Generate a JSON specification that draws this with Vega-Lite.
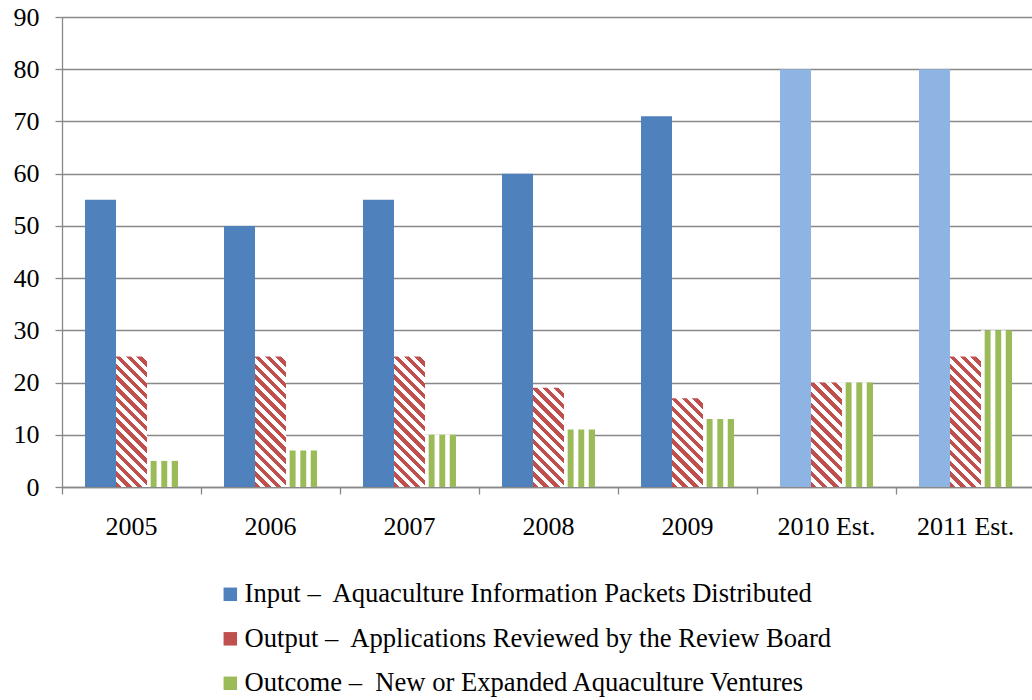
{
  "$schema": "https://vega.github.io/schema/vega-lite/v6.json",
  "width": 973,
  "height": 470,
  "autosize": "none",
  "padding": {"left": 62, "top": 17, "right": 0, "bottom": 213},
  "background": "white",
  "config": {"view": {"stroke": null}, "font": "Liberation Serif"},
  "data": {
    "values": [
      {"year": "2005", "series": "Input", "value": 55},
      {"year": "2006", "series": "Input", "value": 50},
      {"year": "2007", "series": "Input", "value": 55},
      {"year": "2008", "series": "Input", "value": 60},
      {"year": "2009", "series": "Input", "value": 71},
      {"year": "2010 Est.", "series": "Input", "value": 80},
      {"year": "2011 Est.", "series": "Input", "value": 80},
      {"year": "2005", "series": "Output", "value": 25},
      {"year": "2006", "series": "Output", "value": 25},
      {"year": "2007", "series": "Output", "value": 25},
      {"year": "2008", "series": "Output", "value": 19},
      {"year": "2009", "series": "Output", "value": 17},
      {"year": "2010 Est.", "series": "Output", "value": 20},
      {"year": "2011 Est.", "series": "Output", "value": 25},
      {"year": "2005", "series": "Outcome", "value": 5},
      {"year": "2006", "series": "Outcome", "value": 7},
      {"year": "2007", "series": "Outcome", "value": 10},
      {"year": "2008", "series": "Outcome", "value": 11},
      {"year": "2009", "series": "Outcome", "value": 13},
      {"year": "2010 Est.", "series": "Outcome", "value": 20},
      {"year": "2011 Est.", "series": "Outcome", "value": 30}
    ]
  },
  "encoding": {
    "x": {
      "field": "year", "type": "nominal", "sort": null,
      "scale": {"paddingInner": 0, "paddingOuter": 0},
      "axis": {
        "title": null, "labelAngle": 0, "bandPosition": 0,
        "labelFont": "Liberation Serif", "labelFontSize": 26, "labelColor": "#000000",
        "labelPadding": 19, "tickSize": 7, "tickColor": "#888888", "domainColor": "#888888",
        "tickWidth": 1.3, "domainWidth": 1.3, "grid": false
      }
    },
    "xOffset": {
      "field": "series", "type": "nominal",
      "scale": {"domain": ["Input", "Output", "Outcome"], "paddingInner": 0, "paddingOuter": 0.742}
    },
    "y": {
      "field": "value", "type": "quantitative",
      "scale": {"domain": [0, 90], "nice": false},
      "axis": {
        "title": null, "values": [0, 10, 20, 30, 40, 50, 60, 70, 80, 90],
        "labelFont": "Liberation Serif", "labelFontSize": 26, "labelColor": "#000000",
        "labelPadding": 16, "tickSize": 7, "tickColor": "#888888", "domainColor": "#888888",
        "tickWidth": 1.3, "domainWidth": 1.3, "grid": true, "gridColor": "#888888", "gridWidth": 1.3
      }
    }
  },
  "layer": [
    {
      "transform": [{"filter": "datum.series === 'Input'"}],
      "mark": {"type": "bar"},
      "encoding": {
        "fill": {
          "field": "series", "type": "nominal",
          "scale": {"domain": ["Input", "Output", "Outcome"], "range": ["#4F81BD", "#C0504D", "#9BBB59"]},
          "legend": {
            "orient": "none", "legendX": 155, "legendY": 564, "direction": "vertical",
            "title": null, "symbolType": "square", "symbolSize": 182, "symbolStrokeWidth": 0,
            "labelFont": "Liberation Serif", "labelFontSize": 26.6, "labelColor": "#000000",
            "labelLimit": 900, "rowPadding": 17.5, "labelOffset": 1, "padding": 0,
            "labelExpr": "datum.label == 'Input' ? 'Input –\u00a0 Aquaculture Information Packets Distributed' : datum.label == 'Output' ? 'Output –\u00a0 Applications Reviewed by the Review Board' : 'Outcome –\u00a0 New or Expanded Aquaculture Ventures'",
            "encode": {
              "symbols": {
                "update": {
                  "fill": [
                    {"test": "datum.value === 'Output'", "value": {"gradient": "linear", "x1": 0, "y1": 1, "x2": 1, "y2": 0, "stops": [
                      {"offset": 0, "color": "#FFFFFF"},
                      {"offset": 0.2, "color": "#FFFFFF"}, {"offset": 0.2, "color": "#C0504D"},
                      {"offset": 0.4, "color": "#C0504D"}, {"offset": 0.4, "color": "#FFFFFF"},
                      {"offset": 0.6, "color": "#FFFFFF"}, {"offset": 0.6, "color": "#C0504D"},
                      {"offset": 0.8, "color": "#C0504D"}, {"offset": 0.8, "color": "#FFFFFF"},
                      {"offset": 1, "color": "#FFFFFF"}
                    ]}},
                    {"test": "datum.value === 'Outcome'", "value": {"gradient": "linear", "x1": 0, "y1": 0, "x2": 1, "y2": 0, "stops": [
                      {"offset": 0, "color": "#9BBB59"},
                      {"offset": 0.25, "color": "#9BBB59"}, {"offset": 0.3, "color": "#FFFFFF"},
                      {"offset": 0.42, "color": "#FFFFFF"}, {"offset": 0.47, "color": "#9BBB59"},
                      {"offset": 0.7, "color": "#9BBB59"}, {"offset": 0.75, "color": "#FFFFFF"},
                      {"offset": 1, "color": "#FFFFFF"}
                    ]}},
                    {"value": "#4F81BD"}
                  ]
                }
              }
            }
          },
          "condition": {"test": "indexof(datum.year, 'Est') >= 0", "value": "#8EB4E3"}
        }
      }
    },
    {
      "transform": [{"filter": "datum.series === 'Output'"}],
      "mark": {"type": "bar"},
      "encoding": {
        "fill": {
          "field": "series", "type": "nominal",
          "condition": [
            {"test": "datum.value == 25", "value": {"gradient": "linear", "x1": 0, "y1": 1, "x2": 0.27814, "y2": -0.17141, "stops": [
              {"offset": 0, "color": "#C0504D"},
              {"offset": 0.0333, "color": "#C0504D"}, {"offset": 0.0333, "color": "#FFFFFF"},
              {"offset": 0.0667, "color": "#FFFFFF"}, {"offset": 0.0667, "color": "#C0504D"},
              {"offset": 0.1, "color": "#C0504D"}, {"offset": 0.1, "color": "#FFFFFF"},
              {"offset": 0.1333, "color": "#FFFFFF"}, {"offset": 0.1333, "color": "#C0504D"},
              {"offset": 0.1667, "color": "#C0504D"}, {"offset": 0.1667, "color": "#FFFFFF"},
              {"offset": 0.2, "color": "#FFFFFF"}, {"offset": 0.2, "color": "#C0504D"},
              {"offset": 0.2333, "color": "#C0504D"}, {"offset": 0.2333, "color": "#FFFFFF"},
              {"offset": 0.2667, "color": "#FFFFFF"}, {"offset": 0.2667, "color": "#C0504D"},
              {"offset": 0.3, "color": "#C0504D"}, {"offset": 0.3, "color": "#FFFFFF"},
              {"offset": 0.3333, "color": "#FFFFFF"}, {"offset": 0.3333, "color": "#C0504D"},
              {"offset": 0.3667, "color": "#C0504D"}, {"offset": 0.3667, "color": "#FFFFFF"},
              {"offset": 0.4, "color": "#FFFFFF"}, {"offset": 0.4, "color": "#C0504D"},
              {"offset": 0.4333, "color": "#C0504D"}, {"offset": 0.4333, "color": "#FFFFFF"},
              {"offset": 0.4667, "color": "#FFFFFF"}, {"offset": 0.4667, "color": "#C0504D"},
              {"offset": 0.5, "color": "#C0504D"}, {"offset": 0.5, "color": "#FFFFFF"},
              {"offset": 0.5333, "color": "#FFFFFF"}, {"offset": 0.5333, "color": "#C0504D"},
              {"offset": 0.5667, "color": "#C0504D"}, {"offset": 0.5667, "color": "#FFFFFF"},
              {"offset": 0.6, "color": "#FFFFFF"}, {"offset": 0.6, "color": "#C0504D"},
              {"offset": 0.6333, "color": "#C0504D"}, {"offset": 0.6333, "color": "#FFFFFF"},
              {"offset": 0.6667, "color": "#FFFFFF"}, {"offset": 0.6667, "color": "#C0504D"},
              {"offset": 0.7, "color": "#C0504D"}, {"offset": 0.7, "color": "#FFFFFF"},
              {"offset": 0.7333, "color": "#FFFFFF"}, {"offset": 0.7333, "color": "#C0504D"},
              {"offset": 0.7667, "color": "#C0504D"}, {"offset": 0.7667, "color": "#FFFFFF"},
              {"offset": 0.8, "color": "#FFFFFF"}, {"offset": 0.8, "color": "#C0504D"},
              {"offset": 0.8333, "color": "#C0504D"}, {"offset": 0.8333, "color": "#FFFFFF"},
              {"offset": 0.8667, "color": "#FFFFFF"}, {"offset": 0.8667, "color": "#C0504D"},
              {"offset": 0.9, "color": "#C0504D"}, {"offset": 0.9, "color": "#FFFFFF"},
              {"offset": 0.9333, "color": "#FFFFFF"}, {"offset": 0.9333, "color": "#C0504D"},
              {"offset": 0.9667, "color": "#C0504D"}, {"offset": 0.9667, "color": "#FFFFFF"},
              {"offset": 1, "color": "#FFFFFF"}
            ]}},
            {"test": "datum.value == 20", "value": {"gradient": "linear", "x1": 0, "y1": 1, "x2": 0.35374, "y2": -0.19181, "stops": [
              {"offset": 0, "color": "#C0504D"},
              {"offset": 0.0417, "color": "#C0504D"}, {"offset": 0.0417, "color": "#FFFFFF"},
              {"offset": 0.0833, "color": "#FFFFFF"}, {"offset": 0.0833, "color": "#C0504D"},
              {"offset": 0.125, "color": "#C0504D"}, {"offset": 0.125, "color": "#FFFFFF"},
              {"offset": 0.1667, "color": "#FFFFFF"}, {"offset": 0.1667, "color": "#C0504D"},
              {"offset": 0.2083, "color": "#C0504D"}, {"offset": 0.2083, "color": "#FFFFFF"},
              {"offset": 0.25, "color": "#FFFFFF"}, {"offset": 0.25, "color": "#C0504D"},
              {"offset": 0.2917, "color": "#C0504D"}, {"offset": 0.2917, "color": "#FFFFFF"},
              {"offset": 0.3333, "color": "#FFFFFF"}, {"offset": 0.3333, "color": "#C0504D"},
              {"offset": 0.375, "color": "#C0504D"}, {"offset": 0.375, "color": "#FFFFFF"},
              {"offset": 0.4167, "color": "#FFFFFF"}, {"offset": 0.4167, "color": "#C0504D"},
              {"offset": 0.4583, "color": "#C0504D"}, {"offset": 0.4583, "color": "#FFFFFF"},
              {"offset": 0.5, "color": "#FFFFFF"}, {"offset": 0.5, "color": "#C0504D"},
              {"offset": 0.5417, "color": "#C0504D"}, {"offset": 0.5417, "color": "#FFFFFF"},
              {"offset": 0.5833, "color": "#FFFFFF"}, {"offset": 0.5833, "color": "#C0504D"},
              {"offset": 0.625, "color": "#C0504D"}, {"offset": 0.625, "color": "#FFFFFF"},
              {"offset": 0.6667, "color": "#FFFFFF"}, {"offset": 0.6667, "color": "#C0504D"},
              {"offset": 0.7083, "color": "#C0504D"}, {"offset": 0.7083, "color": "#FFFFFF"},
              {"offset": 0.75, "color": "#FFFFFF"}, {"offset": 0.75, "color": "#C0504D"},
              {"offset": 0.7917, "color": "#C0504D"}, {"offset": 0.7917, "color": "#FFFFFF"},
              {"offset": 0.8333, "color": "#FFFFFF"}, {"offset": 0.8333, "color": "#C0504D"},
              {"offset": 0.875, "color": "#C0504D"}, {"offset": 0.875, "color": "#FFFFFF"},
              {"offset": 0.9167, "color": "#FFFFFF"}, {"offset": 0.9167, "color": "#C0504D"},
              {"offset": 0.9583, "color": "#C0504D"}, {"offset": 0.9583, "color": "#FFFFFF"},
              {"offset": 1, "color": "#FFFFFF"}
            ]}},
            {"test": "datum.value == 19", "value": {"gradient": "linear", "x1": 0, "y1": 1, "x2": 0.37358, "y2": -0.19572, "stops": [
              {"offset": 0, "color": "#C0504D"},
              {"offset": 0.0417, "color": "#C0504D"}, {"offset": 0.0417, "color": "#FFFFFF"},
              {"offset": 0.0833, "color": "#FFFFFF"}, {"offset": 0.0833, "color": "#C0504D"},
              {"offset": 0.125, "color": "#C0504D"}, {"offset": 0.125, "color": "#FFFFFF"},
              {"offset": 0.1667, "color": "#FFFFFF"}, {"offset": 0.1667, "color": "#C0504D"},
              {"offset": 0.2083, "color": "#C0504D"}, {"offset": 0.2083, "color": "#FFFFFF"},
              {"offset": 0.25, "color": "#FFFFFF"}, {"offset": 0.25, "color": "#C0504D"},
              {"offset": 0.2917, "color": "#C0504D"}, {"offset": 0.2917, "color": "#FFFFFF"},
              {"offset": 0.3333, "color": "#FFFFFF"}, {"offset": 0.3333, "color": "#C0504D"},
              {"offset": 0.375, "color": "#C0504D"}, {"offset": 0.375, "color": "#FFFFFF"},
              {"offset": 0.4167, "color": "#FFFFFF"}, {"offset": 0.4167, "color": "#C0504D"},
              {"offset": 0.4583, "color": "#C0504D"}, {"offset": 0.4583, "color": "#FFFFFF"},
              {"offset": 0.5, "color": "#FFFFFF"}, {"offset": 0.5, "color": "#C0504D"},
              {"offset": 0.5417, "color": "#C0504D"}, {"offset": 0.5417, "color": "#FFFFFF"},
              {"offset": 0.5833, "color": "#FFFFFF"}, {"offset": 0.5833, "color": "#C0504D"},
              {"offset": 0.625, "color": "#C0504D"}, {"offset": 0.625, "color": "#FFFFFF"},
              {"offset": 0.6667, "color": "#FFFFFF"}, {"offset": 0.6667, "color": "#C0504D"},
              {"offset": 0.7083, "color": "#C0504D"}, {"offset": 0.7083, "color": "#FFFFFF"},
              {"offset": 0.75, "color": "#FFFFFF"}, {"offset": 0.75, "color": "#C0504D"},
              {"offset": 0.7917, "color": "#C0504D"}, {"offset": 0.7917, "color": "#FFFFFF"},
              {"offset": 0.8333, "color": "#FFFFFF"}, {"offset": 0.8333, "color": "#C0504D"},
              {"offset": 0.875, "color": "#C0504D"}, {"offset": 0.875, "color": "#FFFFFF"},
              {"offset": 0.9167, "color": "#FFFFFF"}, {"offset": 0.9167, "color": "#C0504D"},
              {"offset": 0.9583, "color": "#C0504D"}, {"offset": 0.9583, "color": "#FFFFFF"},
              {"offset": 1, "color": "#FFFFFF"}
            ]}},
            {"test": "datum.value == 17", "value": {"gradient": "linear", "x1": 0, "y1": 1, "x2": 0.41991, "y2": -0.20257, "stops": [
              {"offset": 0, "color": "#C0504D"},
              {"offset": 0.0455, "color": "#C0504D"}, {"offset": 0.0455, "color": "#FFFFFF"},
              {"offset": 0.0909, "color": "#FFFFFF"}, {"offset": 0.0909, "color": "#C0504D"},
              {"offset": 0.1364, "color": "#C0504D"}, {"offset": 0.1364, "color": "#FFFFFF"},
              {"offset": 0.1818, "color": "#FFFFFF"}, {"offset": 0.1818, "color": "#C0504D"},
              {"offset": 0.2273, "color": "#C0504D"}, {"offset": 0.2273, "color": "#FFFFFF"},
              {"offset": 0.2727, "color": "#FFFFFF"}, {"offset": 0.2727, "color": "#C0504D"},
              {"offset": 0.3182, "color": "#C0504D"}, {"offset": 0.3182, "color": "#FFFFFF"},
              {"offset": 0.3636, "color": "#FFFFFF"}, {"offset": 0.3636, "color": "#C0504D"},
              {"offset": 0.4091, "color": "#C0504D"}, {"offset": 0.4091, "color": "#FFFFFF"},
              {"offset": 0.4545, "color": "#FFFFFF"}, {"offset": 0.4545, "color": "#C0504D"},
              {"offset": 0.5, "color": "#C0504D"}, {"offset": 0.5, "color": "#FFFFFF"},
              {"offset": 0.5455, "color": "#FFFFFF"}, {"offset": 0.5455, "color": "#C0504D"},
              {"offset": 0.5909, "color": "#C0504D"}, {"offset": 0.5909, "color": "#FFFFFF"},
              {"offset": 0.6364, "color": "#FFFFFF"}, {"offset": 0.6364, "color": "#C0504D"},
              {"offset": 0.6818, "color": "#C0504D"}, {"offset": 0.6818, "color": "#FFFFFF"},
              {"offset": 0.7273, "color": "#FFFFFF"}, {"offset": 0.7273, "color": "#C0504D"},
              {"offset": 0.7727, "color": "#C0504D"}, {"offset": 0.7727, "color": "#FFFFFF"},
              {"offset": 0.8182, "color": "#FFFFFF"}, {"offset": 0.8182, "color": "#C0504D"},
              {"offset": 0.8636, "color": "#C0504D"}, {"offset": 0.8636, "color": "#FFFFFF"},
              {"offset": 0.9091, "color": "#FFFFFF"}, {"offset": 0.9091, "color": "#C0504D"},
              {"offset": 0.9545, "color": "#C0504D"}, {"offset": 0.9545, "color": "#FFFFFF"},
              {"offset": 1, "color": "#FFFFFF"}
            ]}}
          ]
        }
      }
    },
    {
      "transform": [{"filter": "datum.series === 'Outcome'"}],
      "mark": {"type": "bar"},
      "encoding": {
        "fill": {
          "field": "series", "type": "nominal",
          "condition": {"test": "true", "value": {"gradient": "linear", "x1": 0, "y1": 0, "x2": 1, "y2": 0, "stops": [
            {"offset": 0, "color": "#FFFFFF"},
            {"offset": 0.1, "color": "#FFFFFF"},
            {"offset": 0.14, "color": "#9BBB59"},
            {"offset": 0.29, "color": "#9BBB59"},
            {"offset": 0.33, "color": "#FFFFFF"},
            {"offset": 0.44, "color": "#FFFFFF"},
            {"offset": 0.48, "color": "#9BBB59"},
            {"offset": 0.63, "color": "#9BBB59"},
            {"offset": 0.67, "color": "#FFFFFF"},
            {"offset": 0.78, "color": "#FFFFFF"},
            {"offset": 0.82, "color": "#9BBB59"},
            {"offset": 1, "color": "#9BBB59"}
          ]}}
        }
      }
    }
  ]
}
